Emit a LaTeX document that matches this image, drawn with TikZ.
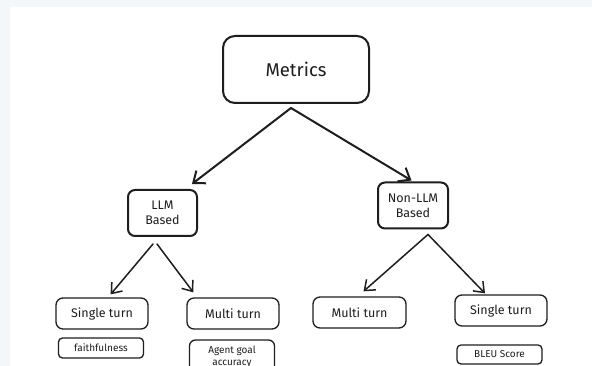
\documentclass[tikz,border=0pt]{standalone}
\usepackage{fontspec}
\setmainfont{Fira Sans}
\usetikzlibrary{arrows.meta}
\definecolor{ink}{HTML}{1E1E1E}
\definecolor{frame}{HTML}{F3F7F9}
\tikzset{
  box/.style={draw=ink, rounded corners=7pt, text=ink, align=center, inner sep=0pt},
  rootbox/.style={box, line width=2pt, rounded corners=12pt, font=\fontsize{18.5}{20}\selectfont},
  midbox/.style={box, line width=2pt, font=\fontsize{12.5}{15}\selectfont},
  leafbox/.style={box, line width=1.3pt, font=\fontsize{12.5}{15}\selectfont},
  notebox/.style={box, line width=1.3pt, rounded corners=4pt, font=\fontsize{10}{12}\selectfont},
  bigarrow/.style={draw=ink, line width=2pt, line cap=round, -{Straight Barb[length=10pt,width=16pt,line width=2pt]}},
  smallarrow/.style={draw=ink, line width=1.5pt, line cap=round, -{Straight Barb[length=9pt,width=14pt,line width=1.5pt]}},
}
\begin{document}
\begin{tikzpicture}[x=1pt,y=-1pt]
  % canvas with a thin light frame along the top and left edges
  \useasboundingbox (0,0) rectangle (592,366);
  \fill[frame] (0,0) rectangle (592,366);
  \fill[white] (10,7) rectangle (592,366);

  % boxes
  \node[rootbox, minimum width=146pt, minimum height=67pt] (metrics) at (296,69.5) {Metrics};
  \node[midbox, minimum width=69pt, minimum height=46pt] (llm) at (162.5,213) {LLM\\Based};
  \node[midbox, minimum width=70pt, minimum height=46pt] (nonllm) at (413,205.5) {Non-LLM\\Based};

  \node[leafbox, minimum width=92pt, minimum height=31pt] (singleL) at (102,313.5) {Single turn};
  \node[leafbox, minimum width=92pt, minimum height=31pt] (multiL) at (233,313.5) {Multi turn};
  \node[leafbox, minimum width=93pt, minimum height=31pt] (multiR) at (359.5,312.5) {Multi turn};
  \node[leafbox, minimum width=92pt, minimum height=31pt] (singleR) at (501,310.5) {Single turn};

  \node[notebox, minimum width=85pt, minimum height=20pt] (faith) at (101,348) {faithfulness};
  \node[notebox, minimum width=85pt, minimum height=34pt, rounded corners=6pt] (agent) at (232,357) {Agent goal\\accuracy};
  \node[notebox, minimum width=85pt, minimum height=19pt] (bleu) at (499.5,354.5) {BLEU Score};

  % connectors
  \draw[bigarrow] ([xshift=-5pt,yshift=-4pt]metrics.south) -- ([xshift=-6pt,yshift=5pt]llm.north east);
  \draw[bigarrow] ([xshift=-5pt,yshift=-4pt]metrics.south) -- ([xshift=-1.5pt,yshift=1pt]nonllm.north);

  \draw[smallarrow] ([xshift=-9.5pt,yshift=-7pt]llm.south) -- ([xshift=8.6pt,yshift=3pt]singleL.north);
  \draw[smallarrow] ([xshift=-5.5pt,yshift=-7pt]llm.south) -- ([xshift=7pt,yshift=5pt]multiL.north west);
  \draw[smallarrow] ([xshift=15pt,yshift=-5pt]nonllm.south) -- ([xshift=4pt,yshift=5pt]multiR.north);
  \draw[smallarrow] ([xshift=15pt,yshift=-5pt]nonllm.south) -- ([xshift=-16pt,yshift=1pt]singleR.north);
\end{tikzpicture}
\end{document}
